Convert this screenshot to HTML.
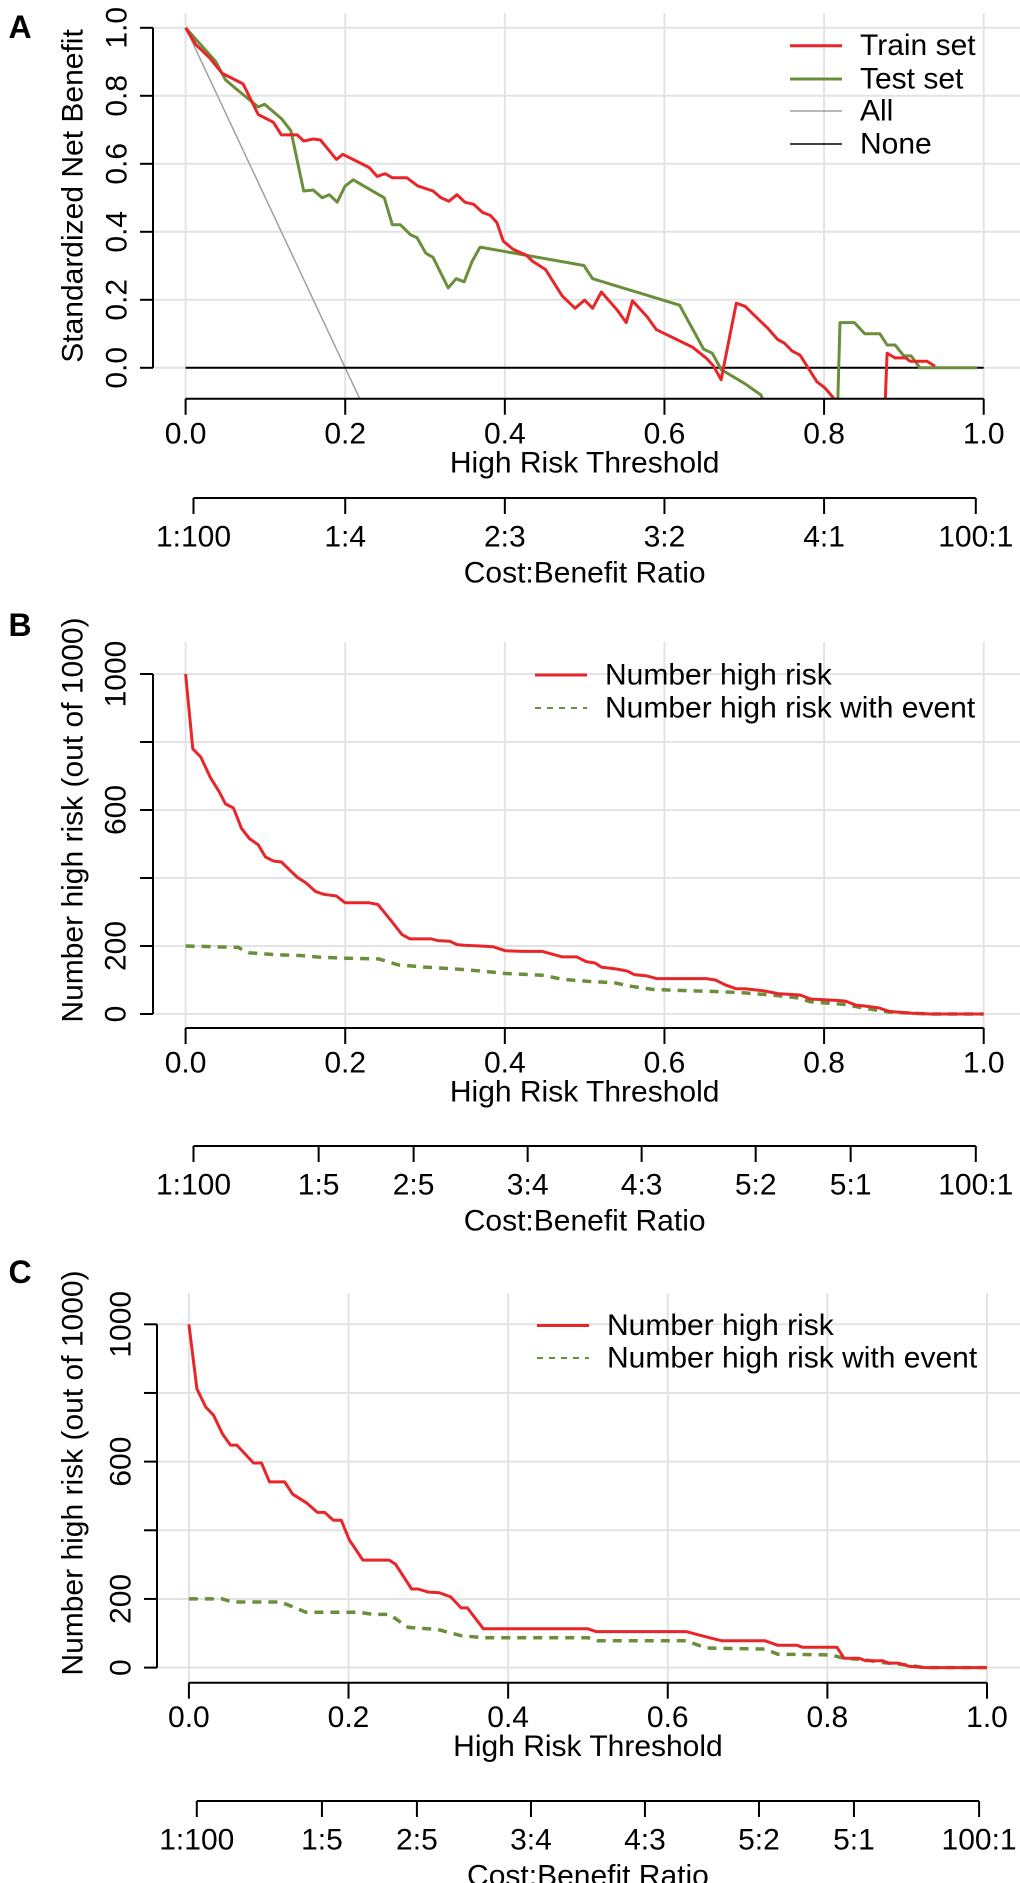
<!DOCTYPE html>
<html><head><meta charset="utf-8"><style>
html,body{margin:0;padding:0;background:#fff;}
svg{display:block;font-family:"Liberation Sans",Arial,sans-serif;}
</style></head><body>
<svg id="fig" width="1020" height="1883" viewBox="0 0 1020 1883" xmlns="http://www.w3.org/2000/svg"></svg>
<script>
// ---------- Panel A data ----------
const aTrainX=[0,0.013,0.03,0.046,0.072,0.091,0.11,0.12,0.14,0.148,0.16,0.169,0.189,0.197,0.23,0.24,0.25,0.259,0.277,0.291,0.31,0.32,0.33,0.34,0.35,0.361,0.372,0.382,0.39,0.398,0.41,0.427,0.435,0.451,0.472,0.488,0.5,0.51,0.521,0.541,0.552,0.56,0.578,0.59,0.635,0.652,0.661,0.671,0.69,0.701,0.73,0.742,0.75,0.76,0.77,0.791,0.801,0.814,0.82,0.87,0.875,0.879,0.889,0.902,0.908,0.929,0.939];
const aTrainY=[1,0.95,0.912,0.866,0.835,0.745,0.722,0.685,0.685,0.667,0.673,0.67,0.613,0.628,0.589,0.563,0.571,0.559,0.559,0.535,0.52,0.5,0.49,0.509,0.487,0.481,0.457,0.448,0.427,0.373,0.349,0.331,0.313,0.289,0.211,0.175,0.199,0.175,0.223,0.169,0.133,0.197,0.151,0.112,0.061,0.029,0.007,-0.035,0.19,0.181,0.115,0.083,0.073,0.049,0.037,-0.041,-0.059,-0.095,-0.3,-0.3,-0.2,0.043,0.029,0.029,0.019,0.019,0.005];
const aTestX=[0,0.038,0.05,0.062,0.091,0.099,0.12,0.132,0.148,0.16,0.171,0.18,0.19,0.2,0.21,0.249,0.259,0.269,0.282,0.29,0.301,0.31,0.329,0.339,0.349,0.359,0.369,0.499,0.51,0.619,0.649,0.66,0.671,0.701,0.721,0.74,0.81,0.816,0.82,0.838,0.851,0.87,0.879,0.889,0.9,0.909,0.92,0.992];
const aTestY=[1,0.9,0.847,0.823,0.767,0.775,0.733,0.697,0.52,0.523,0.5,0.509,0.487,0.535,0.553,0.5,0.421,0.421,0.391,0.383,0.337,0.325,0.235,0.262,0.253,0.313,0.355,0.301,0.262,0.184,0.055,0.043,-0.005,-0.047,-0.08,-0.2,-0.3,-0.2,0.133,0.133,0.1,0.1,0.067,0.067,0.035,0.035,0,0];
const aAllX=[0,0.2,0.25];
const aAllY=[1,0,-0.25];
const aNoneX=[0,1];
const aNoneY=[0,0];
const aYTicks=[0,0.2,0.4,0.6,0.8,1.0];
const aYLabels=["0.0","0.2","0.4","0.6","0.8","1.0"];
const xTicks=[0,0.2,0.4,0.6,0.8,1.0];
const xLabels=["0.0","0.2","0.4","0.6","0.8","1.0"];
const aCostTicks=[0.0099,0.2,0.4,0.6,0.8,0.9901];
const aCostLabels=["1:100","1:4","2:3","3:2","4:1","100:1"];
// ---------- Panel B data ----------
const bRedX=[0,0.009,0.019,0.031,0.042,0.05,0.06,0.07,0.08,0.091,0.1,0.11,0.12,0.14,0.15,0.163,0.173,0.189,0.2,0.23,0.241,0.259,0.271,0.281,0.308,0.316,0.331,0.34,0.349,0.369,0.385,0.401,0.423,0.447,0.472,0.49,0.502,0.513,0.521,0.541,0.554,0.562,0.578,0.59,0.652,0.664,0.676,0.69,0.701,0.725,0.742,0.77,0.783,0.815,0.827,0.84,0.848,0.869,0.881,0.91,0.934,1];
const bRedY=[1000,780,756,696,654,618,606,546,516,498,462,450,447,402,387,360,352,347,327,327,322,270,234,221,221,216,214,204,202,200,198,186,184,184,168,168,154,150,138,132,126,116,112,104,104,100,86,74,74,68,60,56,44,40,38,26,24,18,8,2,0,0];
const bGreenX=[0,0.066,0.079,0.115,0.144,0.169,0.201,0.242,0.267,0.3,0.34,0.373,0.401,0.447,0.472,0.505,0.537,0.554,0.586,0.611,0.668,0.701,0.742,0.766,0.783,0.827,0.848,0.881,0.913,0.934,1];
const bGreenY=[200,196,180,174,172,167,164,162,144,138,132,126,119,114,102,96,92,83,72,70,66,62,54,48,36,28,18,6,2,0,0];
const nYTicks=[0,200,400,600,800,1000];
const nYLabels=["0","200","","600","","1000"];
const bCostTicks=[0.0099,0.1667,0.2857,0.4286,0.5714,0.7143,0.8333,0.9901];
const bCostLabels=["1:100","1:5","2:5","3:4","4:3","5:2","5:1","100:1"];
// ---------- Panel C data ----------
const cRedX=[0,0.01,0.021,0.031,0.042,0.052,0.06,0.081,0.091,0.101,0.12,0.13,0.148,0.161,0.17,0.181,0.191,0.201,0.218,0.251,0.259,0.279,0.287,0.3,0.314,0.328,0.341,0.349,0.369,0.5,0.51,0.623,0.652,0.668,0.722,0.738,0.762,0.769,0.812,0.821,0.84,0.848,0.869,0.877,0.889,0.902,0.922,1];
const cRedY=[1000,812,759,735,681,648,648,596,596,541,541,505,479,452,452,429,429,372,313,313,301,229,229,220,218,206,174,174,113,113,105,105,87,78,78,65,65,59,59,27,27,20,20,13,13,4,0,0];
const cGreenX=[0,0.042,0.054,0.115,0.147,0.214,0.23,0.251,0.275,0.312,0.341,0.369,0.5,0.512,0.623,0.648,0.722,0.738,0.804,0.821,0.844,0.869,0.902,0.922,1];
const cGreenY=[200,200,191,191,161,161,155,155,117,111,93,87,87,78,78,57,54,39,37,27,24,15,7,0,0];

const NS="http://www.w3.org/2000/svg";
const svg=document.getElementById('fig');
const RED="#e8262a", GREEN="#6b8e3a";
function mk(tag,attrs,parent){const e=document.createElementNS(NS,tag);for(const k in attrs)e.setAttribute(k,attrs[k]);(parent||svg).appendChild(e);return e;}
function txt(s,x,y,size,parent,extra){const e=mk('text',Object.assign({x:x,y:y,'font-size':size,'text-anchor':'middle','dominant-baseline':'central',fill:'#000'},extra||{}),parent);e.textContent=s;return e;}

function panel(cfg){
  const g=mk('g',{});
  
  
  const sx=v=>cfg.x0+(cfg.x1-cfg.x0)*v;
  const sy=v=>cfg.yb+(cfg.yt-cfg.yb)*(v-cfg.ymin)/(cfg.ymax-cfg.ymin);
  const clipId='clip-'+cfg.name;
  const cp=mk('clipPath',{id:clipId},g);
  mk('rect',{x:cfg.x0-5,y:cfg.gridTop,width:1020-cfg.x0,height:cfg.axisY-cfg.gridTop},cp);
  const grid=mk('g',{stroke:'#e3e3e3','stroke-width':2},g);
  
  
  xTicks.forEach(v=>mk('line',{x1:sx(v),x2:sx(v),y1:cfg.gridTop,y2:cfg.axisY},grid));
  cfg.yTicks.forEach(v=>mk('line',{x1:cfg.yAxisX,x2:1020,y1:sy(v),y2:sy(v)},grid));
  const sg=mk('g',{'clip-path':'url(#'+clipId+')'},g);
  cfg.series.forEach(s=>{
    let d='';s.x.forEach((v,i)=>{d+=(i?'L':'M')+sx(v).toFixed(1)+' '+sy(s.y[i]).toFixed(1);});
    const p=mk('path',{d:d,fill:'none',stroke:s.color,'stroke-width':s.w,'stroke-linejoin':'round'},sg);
    if(s.dash)p.setAttribute('stroke-dasharray',s.dash);
    
    
  });
  const ya=mk('g',{stroke:'#000','stroke-width':2},g);
  
  
  mk('line',{x1:cfg.yAxisX,x2:cfg.yAxisX,y1:sy(cfg.yTicks[0]),y2:sy(cfg.yTicks[cfg.yTicks.length-1])},ya);
  cfg.yTicks.forEach((v,i)=>{
    mk('line',{x1:cfg.yAxisX-13,x2:cfg.yAxisX,y1:sy(v),y2:sy(v)},ya);
    if(cfg.yLabels[i]){const t=txt(cfg.yLabels[i],cfg.yLabX,sy(v),30,g,{transform:'rotate(-90 '+cfg.yLabX+' '+sy(v)+')'});
      
      }
  });
  const yt=txt(cfg.yTitle,73,cfg.yTitleY,30,g,{transform:'rotate(-90 73 '+cfg.yTitleY+')'});
  
  
  const xa=mk('g',{stroke:'#000','stroke-width':2},g);
  
  
  mk('line',{x1:sx(0),x2:sx(1),y1:cfg.axisY,y2:cfg.axisY},xa);
  xTicks.forEach((v,i)=>{
    mk('line',{x1:sx(v),x2:sx(v),y1:cfg.axisY,y2:cfg.axisY+16},xa);
    const t=txt(xLabels[i],sx(v),cfg.axisY+35,30,g);
    
    
  });
  const xt=txt('High Risk Threshold',(sx(0)+sx(1))/2,cfg.axisY+64,30,g);
  
  
  const ca=mk('g',{stroke:'#000','stroke-width':2},g);
  
  
  const cy=cfg.costY;
  mk('line',{x1:sx(cfg.costTicks[0]),x2:sx(cfg.costTicks[cfg.costTicks.length-1]),y1:cy,y2:cy},ca);
  cfg.costTicks.forEach((v,i)=>{
    mk('line',{x1:sx(v),x2:sx(v),y1:cy,y2:cy+16},ca);
    const t=txt(cfg.costLabels[i],sx(v),cy+39,30,g);
    
    
  });
  const ct=txt('Cost:Benefit Ratio',(sx(0)+sx(1))/2,cy+75,30,g);
  
  
  const pl=txt(cfg.letter,20,cfg.letterY,32,g,{'font-weight':'bold'});
  
  
  cfg.legend.forEach(l=>{
    const lg=mk('g',{},g);
    
    
    const ln=mk('line',{x1:cfg.legX,x2:cfg.legX+52,y1:l.y,y2:l.y,stroke:l.color,'stroke-width':l.w},lg);
    if(l.dash)ln.setAttribute('stroke-dasharray',l.dash);
    txt(l.label,cfg.legX+70,l.y,30,lg,{'text-anchor':'start'});
  });
}

panel({name:'panel-a',letter:'A',letterY:27,x0:185.6,x1:983.7,yt:27.8,yb:367.8,ymin:0,ymax:1,gridTop:13,axisY:398.8,
  yAxisX:153,yLabX:117,yTicks:aYTicks,yLabels:aYLabels,yTitle:'Standardized Net Benefit',yTitleY:196,
  costY:498,costTicks:aCostTicks,costLabels:aCostLabels,legX:790,
  series:[{name:'all-line',x:aAllX,y:aAllY,color:'#a0a0a0',w:1.5},{name:'none-line',x:aNoneX,y:aNoneY,color:'#000',w:2},
    {name:'test-set-line',x:aTestX,y:aTestY,color:GREEN,w:3},{name:'train-set-line',x:aTrainX,y:aTrainY,color:RED,w:3}],
  legend:[{label:'Train set',y:45.7,color:RED,w:3},{label:'Test set',y:79,color:GREEN,w:3},{label:'All',y:111,color:'#a0a0a0',w:1.5},{label:'None',y:144,color:'#000',w:1.5}]});

panel({name:'panel-b',letter:'B',letterY:625,x0:185.6,x1:983.7,yt:674,yb:1014,ymin:0,ymax:1000,gridTop:642,axisY:1028,
  yAxisX:153,yLabX:116,yTicks:nYTicks,yLabels:nYLabels,yTitle:'Number high risk (out of 1000)',yTitleY:820,
  costY:1146,costTicks:bCostTicks,costLabels:bCostLabels,legX:535,
  series:[{name:'with-event-line',x:bGreenX,y:bGreenY,color:GREEN,w:3.5,dash:'9 7'},{name:'high-risk-line',x:bRedX,y:bRedY,color:RED,w:3}],
  legend:[{label:'Number high risk',y:675,color:RED,w:3},{label:'Number high risk with event',y:708,color:GREEN,w:2,dash:'6 6'}]});

panel({name:'panel-c',letter:'C',letterY:1272,x0:188.9,x1:987,yt:1324.3,yb:1667.6,ymin:0,ymax:1000,gridTop:1293,axisY:1682.7,
  yAxisX:157,yLabX:121,yTicks:nYTicks,yLabels:nYLabels,yTitle:'Number high risk (out of 1000)',yTitleY:1473,
  costY:1801,costTicks:bCostTicks,costLabels:bCostLabels,legX:537,
  series:[{name:'with-event-line',x:cGreenX,y:cGreenY,color:GREEN,w:3.5,dash:'9 7'},{name:'high-risk-line',x:cRedX,y:cRedY,color:RED,w:3}],
  legend:[{label:'Number high risk',y:1325.5,color:RED,w:3},{label:'Number high risk with event',y:1358,color:GREEN,w:2,dash:'6 6'}]});
</script>
</body></html>
